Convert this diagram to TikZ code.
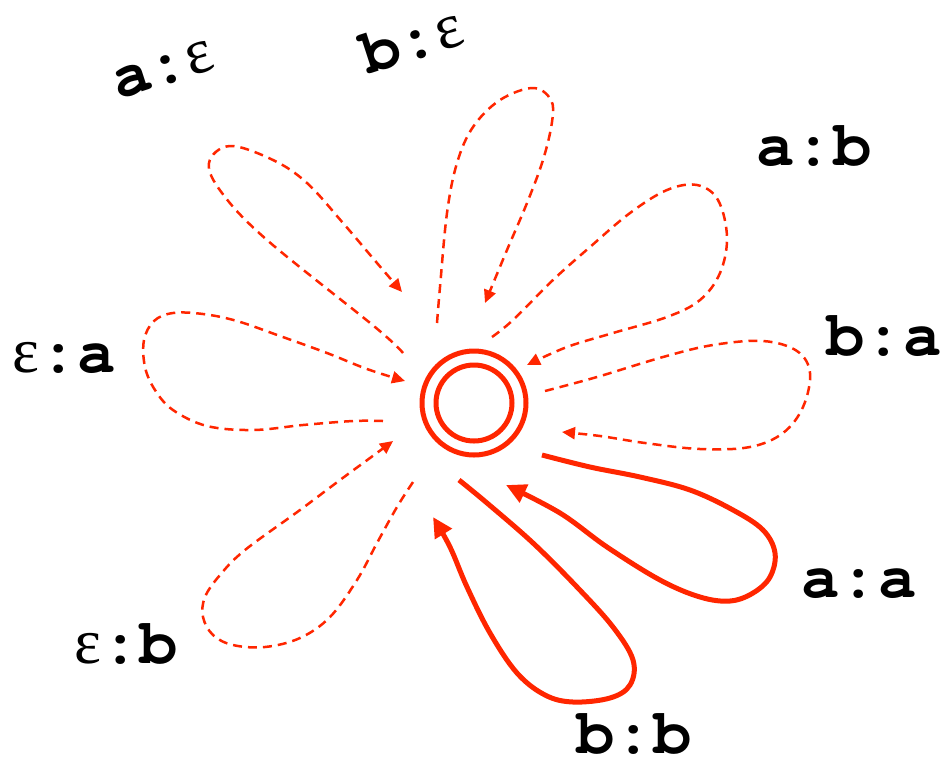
\documentclass[tikz,border=0pt]{standalone}
\usepackage{fontspec}
\setmainfont{Liberation Serif}
\newfontfamily\courfont{TeX Gyre Cursor}
\usetikzlibrary{arrows.meta}
\definecolor{loopred}{RGB}{255,38,0}
\tikzset{
  lbl/.style={anchor=base west, inner sep=0pt, font=\fontsize{64}{66}\selectfont},
  dashloop/.style={draw=loopred, line width=2.5pt, dash pattern=on 9pt off 6pt,
    -{Triangle[length=13pt,width=12pt]}, line join=round},
  solidloop/.style={draw=loopred, line width=5pt,
    -{Triangle[length=20pt,width=19pt]}, line join=round},
  ring/.style={circle, draw=loopred, line width=5pt, inner sep=0pt}
}
\newcommand{\cb}[1]{{\courfont\bfseries #1}}
\begin{document}
\begin{tikzpicture}[x=1pt,y=-1pt]
\path[use as bounding box, fill=white] (0,0) rectangle (952,764);
% state
\node[ring, minimum size=104pt] (q) at (474,403) {};
\node[ring, minimum size=76pt] (qi) at (q.center) {};
% loop end points
\coordinate (s1) at (403,353); \coordinate (e1) at (402,292);
\coordinate (s2) at (437,323); \coordinate (e2) at (485,303);
\coordinate (s3) at (492,337); \coordinate (e3) at (527,365);
\coordinate (s4) at (545,391); \coordinate (e4) at (562,432);
\coordinate (s5) at (542,455); \coordinate (e5) at (506,485);
\coordinate (s6) at (459,480); \coordinate (e6) at (433,517);
\coordinate (s7) at (413,482); \coordinate (e7) at (393,441);
\coordinate (s8) at (383,421); \coordinate (e8) at (405,381);
% a:eps
\draw[dashloop] plot[smooth, tension=0.6] coordinates {(s1) (375,327) (267,240) (222,193) (209,163) (230,146) (273,160) (307,183) (343,223) (377,263) (e1)};
% b:eps
\draw[dashloop] plot[smooth, tension=0.6] coordinates {(s2) (440,287) (447,213) (457,163) (473,127) (500,100) (533,88) (551,100) (552,122) (543,160) (527,203) (507,250) (e2)};
% a:b
\draw[dashloop] plot[smooth, tension=0.6] coordinates {(s3) (513,320) (553,280) (590,247) (630,213) (667,190) (697,185) (718,200) (727,237) (720,273) (700,300) (667,317) (613,333) (567,347) (e3)};
% b:a
\draw[dashloop] plot[smooth, tension=0.6] coordinates {(s4) (597,377) (663,357) (713,345) (763,341) (797,351) (810,373) (803,407) (783,433) (750,447) (700,449) (645,443) (600,436) (e4)};
% a:a
\draw[solidloop] plot[smooth, tension=0.6] coordinates {(s5) (590,467) (640,477) (690,490) (733,510) (763,530) (775,553) (770,577) (753,593) (730,601) (700,597) (660,580) (607,547) (560,513) (e5)};
% b:b
\draw[solidloop] plot[smooth, tension=0.6] coordinates {(s6) (487,503) (533,543) (577,587) (613,627) (633,660) (630,685) (610,698) (573,702) (545,695) (517,673) (490,633) (467,587) (450,547) (e6)};
% eps:b
\draw[dashloop] plot[smooth, tension=0.6] coordinates {(s7) (397,507) (377,543) (357,580) (330,617) (300,638) (265,647) (233,645) (213,635) (203,617) (205,597) (220,575) (245,550) (300,510) (340,480) (370,458) (e7)};
% eps:a
\draw[dashloop] plot[smooth, tension=0.6] coordinates {(s8) (353,421) (303,425) (253,430) (207,426) (173,410) (155,390) (145,367) (144,340) (154,321) (173,313) (203,314) (237,321) (280,336) (327,353) (367,369) (e8)};
% labels
\node[lbl, rotate=18] (l1) at (118,100) {\cb{a:}ε};
\node[lbl, rotate=18] (l2) at (368,75) {\cb{b:}ε};
\node[lbl] (l3) at (756,165) {\cb{a:b}};
\node[lbl] (l4) at (826,355) {\cb{b:a}};
\node[lbl] (l5) at (801,597) {\cb{a:a}};
\node[lbl] (l6) at (576,753) {\cb{b:b}};
\node[lbl] (l7) at (12,372) {ε\cb{:a}};
\node[lbl] (l8) at (74,663) {ε\cb{:b}};
\end{tikzpicture}
\end{document}
